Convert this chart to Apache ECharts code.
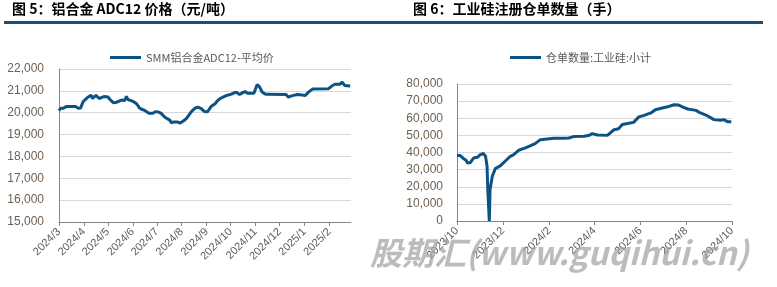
<!DOCTYPE html>
<html><head><meta charset="utf-8">
<script src="https://cdn.jsdelivr.net/npm/echarts@6/dist/echarts.min.js"></script>
<style>html,body{margin:0;padding:0;background:#fff}#c{width:777px;height:287px}</style>
</head><body><div id="c"></div>
<script>
const leftTitle = '图 5：铝合金 ADC12 价格（元/吨）';
const rightTitle = '图 6：工业硅注册仓单数量（手）';
const leftName = 'SMM铝合金ADC12-平均价';
const rightName = '仓单数量:工业硅:小计';
const watermarkText = '股期汇(www.guqihui.cn)';

const leftDates = ['2024-03-01','2024-03-03','2024-03-06','2024-03-10','2024-03-22','2024-03-25','2024-03-28','2024-03-31',
'2024-04-05','2024-04-10','2024-04-12','2024-04-16','2024-04-20','2024-04-26','2024-05-01','2024-05-05','2024-05-08',
'2024-05-12','2024-05-18','2024-05-22','2024-05-24','2024-05-26','2024-05-30','2024-06-03','2024-06-06','2024-06-09',
'2024-06-12','2024-06-15','2024-06-21','2024-06-26','2024-06-29','2024-07-03','2024-07-06','2024-07-11','2024-07-17',
'2024-07-19','2024-07-22','2024-07-24','2024-07-27','2024-07-30','2024-08-03','2024-08-07','2024-08-13','2024-08-18',
'2024-08-21','2024-08-25','2024-08-29','2024-09-02','2024-09-07','2024-09-12','2024-09-14','2024-09-16','2024-09-18',
'2024-09-22','2024-09-27','2024-10-02','2024-10-06','2024-10-09','2024-10-12','2024-10-16','2024-10-19','2024-10-22',
'2024-10-30','2024-11-03','2024-11-06','2024-11-09','2024-11-12','2024-11-15','2024-12-09','2024-12-12','2024-12-15',
'2024-12-22','2024-12-27','2024-12-29','2025-01-02','2025-01-06','2025-01-11','2025-01-31','2025-02-04','2025-02-08',
'2025-02-14','2025-02-17','2025-02-20','2025-02-27'];
const leftValues = [20100,20200,20200,20280,20280,20200,20220,20500,
20680,20800,20650,20800,20650,20740,20720,20550,20450,
20480,20580,20560,20750,20600,20550,20480,20400,20230,
20160,20120,19980,19970,20050,20030,19980,19790,19660,
19540,19580,19530,19570,19530,19620,19740,20050,20220,
20250,20200,20060,20040,20300,20420,20530,20450,20650,
20720,20800,20850,20920,20920,20830,20920,20970,20890,
20890,21290,21180,20960,20870,20840,20830,20710,20760,
20830,20820,20900,20790,20940,21080,21100,21220,21300,
21300,21400,21250,21220];

const rightDates = ['2023-10-01','2023-10-05','2023-10-10','2023-10-13','2023-10-15','2023-10-19','2023-10-23','2023-10-28',
'2023-11-01','2023-11-05','2023-11-08','2023-11-10','2023-11-11','2023-11-13','2023-11-14','2023-11-17','2023-11-21',
'2023-11-28','2023-12-04','2023-12-11','2023-12-15','2023-12-22','2023-12-31','2024-01-07','2024-01-13','2024-01-20',
'2024-01-29','2024-02-07','2024-02-20','2024-02-27','2024-03-04','2024-03-18','2024-03-24','2024-03-29','2024-04-05',
'2024-04-18','2024-04-22','2024-04-27','2024-05-03','2024-05-08','2024-05-15','2024-05-23','2024-05-30','2024-06-06',
'2024-06-15','2024-06-21','2024-06-30','2024-07-09','2024-07-16','2024-07-22','2024-07-27','2024-08-03','2024-08-14',
'2024-08-20','2024-08-29','2024-09-07','2024-09-16','2024-09-20','2024-09-25','2024-09-27','2024-09-30'];
const rightValues = [38200,38300,36300,35500,33900,34200,36800,37200,
38800,39400,37800,32000,18000,0,18400,26100,30600,
32300,34900,37800,38600,41300,42700,44000,45200,47500,
47900,48300,48300,48500,49300,49500,49900,51000,50200,
50000,51400,53300,53900,56300,56900,57600,60800,61700,
63100,65000,66000,66900,67900,67700,66600,65400,64600,
63100,61500,59200,58800,59200,58000,59000,58000];

const leftTicks = ['2024-03-01','2024-04-01','2024-05-01','2024-06-01','2024-07-01','2024-08-01','2024-09-01',
'2024-10-01','2024-11-01','2024-12-01','2025-01-01','2025-02-01'];
const rightTicks = ['2023-10-01','2023-12-01','2024-02-01','2024-04-01','2024-06-01','2024-08-01','2024-10-01'];

const cjk = '"Noto Sans CJK SC", "Liberation Sans", sans-serif';
const latin = '"Liberation Sans", "Noto Sans CJK SC", sans-serif';
const lineColor = '#0c5285';
const axisGray = '#868686';
const labelGray = '#595959';
const yLabelColor = '#6f5f50';

function ts(s){ const p = s.split('-').map(Number); return Date.UTC(p[0], p[1] - 1, p[2]); }
function fmtDate(v){ const d = new Date(v); return d.getUTCFullYear() + '/' + (d.getUTCMonth() + 1); }
function fmtNum(v){ return String(v).replace(/\B(?=(\d{3})+(?!\d))/g, ','); }

function xAxisCfg(grid, min, max, ticks){
  const t = ticks.map(ts);
  return {
    type: 'value', gridIndex: grid, min: ts(min), max: ts(max),
    axisLine: { show: true, lineStyle: { color: axisGray, width: 1 } },
    axisTick: { show: true, customValues: t, length: 4, lineStyle: { color: axisGray } },
    axisLabel: { customValues: t, rotate: 45, formatter: fmtDate, fontSize: 11, color: labelGray, fontFamily: latin, margin: 8 },
    splitLine: { show: false }
  };
}
function yAxisCfg(grid, min, max, interval, margin){
  return {
    type: 'value', gridIndex: grid, min: min, max: max, interval: interval,
    axisLine: { show: true, lineStyle: { color: axisGray, width: 1 } },
    axisTick: { show: false },
    axisLabel: { formatter: fmtNum, fontSize: 12, color: yLabelColor, fontFamily: latin, margin: margin },
    splitLine: { show: true, lineStyle: { color: '#d9d9d9', width: 1 } }
  };
}

const chart = echarts.init(document.getElementById('c'), null, { renderer: 'canvas' });
chart.setOption({
  animation: false,
  backgroundColor: '#fff',
  graphic: [
    { type: 'text', left: 12, top: 2, style: { text: leftTitle, font: 'bold 14px ' + cjk, fill: '#000' } },
    { type: 'text', left: 413, top: 2, style: { text: rightTitle, font: 'bold 14px ' + cjk, fill: '#000' } },
    { type: 'rect', shape: { x: 4, y: 21, width: 759, height: 3 }, style: { fill: '#17507e' } },
    { type: 'text', left: 370, top: 237, z: 100, style: { text: watermarkText, font: 'italic bold 32px ' + cjk, fill: 'rgba(160,160,160,0.7)' } }
  ],
  legend: [
    { data: [leftName], left: 105, top: 47, icon: 'rect', itemWidth: 31, itemHeight: 3, itemGap: 0,
      textStyle: { fontSize: 11, color: labelGray, fontFamily: cjk } },
    { data: [rightName], left: 505, top: 47, icon: 'rect', itemWidth: 31, itemHeight: 3, itemGap: 0,
      textStyle: { fontSize: 11, color: labelGray, fontFamily: cjk } }
  ],
  grid: [
    { left: 59, top: 69, width: 292, height: 153 },
    { left: 457, top: 84, width: 275, height: 137 }
  ],
  xAxis: [
    xAxisCfg(0, '2024-03-01', '2025-02-28', leftTicks),
    xAxisCfg(1, '2023-10-01', '2024-10-01', rightTicks)
  ],
  yAxis: [
    yAxisCfg(0, 15000, 22000, 1000, 15),
    yAxisCfg(1, 0, 80000, 10000, 14)
  ],
  series: [
    { type: 'line', name: leftName, xAxisIndex: 0, yAxisIndex: 0, showSymbol: false,
      data: leftDates.map((d, i) => [ts(d), leftValues[i]]),
      lineStyle: { width: 3, color: lineColor }, itemStyle: { color: lineColor } },
    { type: 'line', name: rightName, xAxisIndex: 1, yAxisIndex: 1, showSymbol: false,
      data: rightDates.map((d, i) => [ts(d), rightValues[i]]),
      lineStyle: { width: 3, color: lineColor }, itemStyle: { color: lineColor } }
  ]
});
</script></body></html>
